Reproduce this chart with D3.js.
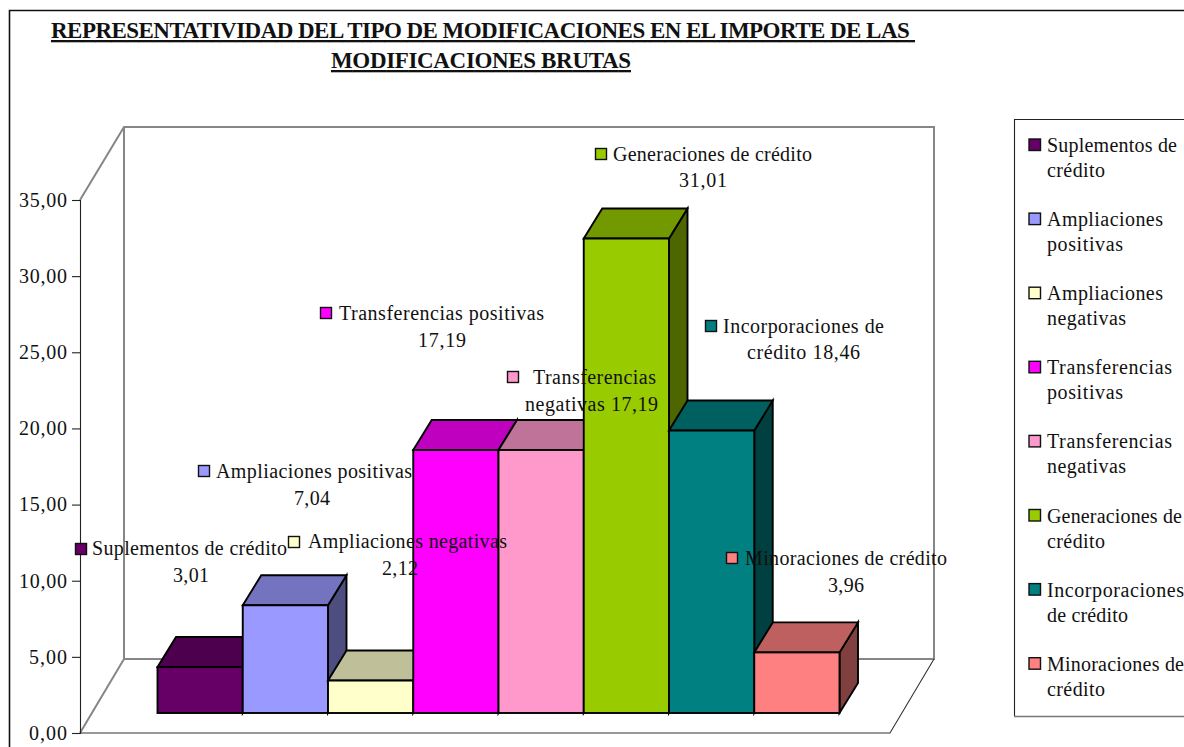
<!DOCTYPE html>
<html lang="es">
<head>
<meta charset="utf-8">
<title>Representatividad</title>
<script src="https://cdn.jsdelivr.net/npm/d3@7/dist/d3.min.js"></script>
<style>
html,body{margin:0;padding:0;background:#fff;overflow:hidden}
svg{display:block}
text{font-family:"Liberation Serif","Times New Roman",serif;fill:#111;white-space:pre}
</style>
</head>
<body>
<svg id="c" width="1184" height="747"></svg>
<script>
const titleLines = ["REPRESENTATIVIDAD DEL TIPO DE MODIFICACIONES EN EL IMPORTE DE LAS ", "MODIFICACIONES BRUTAS"];
const categories = ["Suplementos de crédito","Ampliaciones positivas","Ampliaciones negativas","Transferencias positivas","Transferencias negativas","Generaciones de crédito","Incorporaciones de crédito","Minoraciones de crédito"];
const values = [3.01,7.04,2.12,17.19,17.19,31.01,18.46,3.96];
const colors = ["#660066","#9999FF","#FFFFCC","#FF00FF","#FF99CC","#99CC00","#008080","#FF8080"];
const yTicks = [0,5,10,15,20,25,30,35];
const legendLines = [["Suplementos de","crédito"],["Ampliaciones","positivas"],["Ampliaciones","negativas"],["Transferencias","positivas"],["Transferencias","negativas"],["Generaciones de","crédito"],["Incorporaciones","de crédito"],["Minoraciones de","crédito"]];
const labelLines = [["Suplementos de crédito","3,01"],["Ampliaciones positivas","7,04"],["Ampliaciones negativas","2,12"],["Transferencias positivas","17,19"],["Transferencias","negativas 17,19"],["Generaciones de crédito","31,01"],["Incorporaciones de","crédito 18,46"],["Minoraciones de crédito","3,96"]];

// layout (pixels), kept apart from the data
const labelLayout = [
 {kx:75, ky:543, l:[[92,555,195],[173,582,36]]},
 {kx:198,ky:465, l:[[216,478,196],[294,505,36]]},
 {kx:288,ky:536, l:[[308,548,199],[382,575,36]]},
 {kx:320,ky:307, l:[[339,320,205],[418,347,48]]},
 {kx:507,ky:371, l:[[533,384,123],[525,411,133]]},
 {kx:595,ky:148, l:[[613,161,199],[679,187,48]]},
 {kx:705,ky:320, l:[[723,333,161],[747,359,113]]},
 {kx:726,ky:552, l:[[745,565,202],[828,592,36]]}
];
const legendLayout = {x:1047,keyX:1029,first:152,step:74.1,gap:25};
const legendWidths = [[130,58],[116,76],[116,79],[125,76],[125,79],[135,58],[137,81],[137,58]];
const FONT = 20, DX = 18.5, DY = -30;

const svg = d3.select("#c");
const shade = (c,k)=>{const r=d3.rgb(c);return d3.rgb(r.r*k,r.g*k,r.b*k).formatHex();};
const fmt = d3.formatLocale({decimal:",",thousands:".",grouping:[3],currency:["","€"]}).format(".2f");

function putText(g,str,x,y,w,size,extra){
  const t=g.append("text").attr("x",x).attr("y",y).attr("font-size",size).text(str);
  if(w) t.attr("textLength",w).attr("lengthAdjust","spacing");
  if(extra) extra(t);
  return t;
}

// outer frame
svg.append("path").attr("d","M9.5,747V10.5H1184").attr("fill","none").attr("stroke","#111").attr("stroke-width",1.6);

// title
const titleG=svg.append("g");
[[51,38,864],[331,68,300]].forEach((p,i)=>{
  putText(titleG,titleLines[i],p[0],p[1],p[2],23,t=>t.attr("font-weight","bold").attr("text-decoration","underline"));
});

// scales
const y = d3.scaleLinear().domain([0,35]).range([733,200]);
const barH = d3.scaleLinear().domain([0,35]).range([713,177.5]);
const x = d3.scaleBand().domain(categories).range([157.5,839.5]).padding(0);

// walls and floor
const wall="#868686";
const W={l:124,r:934,t:127,b:659};
svg.append("path").attr("d",`M80,200L${W.l},${W.t}H${W.r}V${W.b}H${W.l}V${W.t}M${W.l},${W.b}L80,733`)
  .attr("fill","none").attr("stroke",wall).attr("stroke-width",2);
svg.append("path").attr("d",`M80,733H890L${W.r},${W.b}`).attr("fill","none").attr("stroke","#333").attr("stroke-width",1.1);

// y axis
const axis=d3.axisLeft(y).tickValues(yTicks).tickFormat(fmt).tickSize(8).tickPadding(5);
const ag=svg.append("g").attr("transform","translate(80,0)").call(axis);
ag.selectAll("path,line").attr("stroke","#222").attr("stroke-width",1.1);
ag.selectAll("text").attr("font-size",FONT).attr("fill","#111").attr("font-family",'"Liberation Serif"')
  .attr("textLength",48).attr("lengthAdjust","spacing");
ag.selectAll(".tick text").filter(d=>d===5||d===0).attr("textLength",38);
ag.attr("font-size",null).attr("font-family",null);

// bars
const data=categories.map((c,i)=>({c,v:values[i],col:colors[i]}));
const bg=svg.append("g").attr("stroke","#000").attr("stroke-width",1.9).attr("stroke-linejoin","miter");
const bars=bg.selectAll("g").data(data).join("g");
const X=d=>x(d.c), X2=d=>x(d.c)+x.bandwidth(), T=d=>barH(d.v), B=barH(0);
bars.append("path").attr("fill",d=>shade(d.col,0.5))
  .attr("d",d=>`M${X2(d)},${T(d)}l${DX},${DY}V${B+DY}L${X2(d)},${B}Z`);
bars.append("path").attr("fill",d=>shade(d.col,0.75))
  .attr("d",d=>`M${X(d)},${T(d)}l${DX},${DY}H${X2(d)+DX}L${X2(d)},${T(d)}Z`);
bars.append("rect").attr("fill",d=>d.col).attr("x",X).attr("y",T)
  .attr("width",x.bandwidth()).attr("height",d=>B-T(d));

// data labels
const lg=svg.append("g");
data.forEach((d,i)=>{
  const p=labelLayout[i];
  lg.append("rect").attr("x",p.kx+.5).attr("y",p.ky+.5).attr("width",11).attr("height",11)
    .attr("fill",d.col).attr("stroke","#111").attr("stroke-width",1.4);
  labelLines[i].forEach((s,j)=>putText(lg,s,p.l[j][0],p.l[j][1],p.l[j][2],FONT));
});

// legend
svg.append("path").attr("d","M1184,119.5H1014.5V716").attr("fill","none").attr("stroke","#222").attr("stroke-width",1.1);
svg.append("path").attr("d","M1014,716.5H1184").attr("fill","none").attr("stroke","#777").attr("stroke-width",1.4);
const leg=svg.append("g");
data.forEach((d,i)=>{
  const b=legendLayout.first+i*legendLayout.step;
  leg.append("rect").attr("x",legendLayout.keyX).attr("y",b-13).attr("width",11.5).attr("height",11.5)
    .attr("fill",d.col).attr("stroke","#111").attr("stroke-width",1.4);
  legendLines[i].forEach((s,j)=>putText(leg,s,legendLayout.x,b+j*legendLayout.gap,legendWidths[i][j],FONT));
});
</script>
</body>
</html>
